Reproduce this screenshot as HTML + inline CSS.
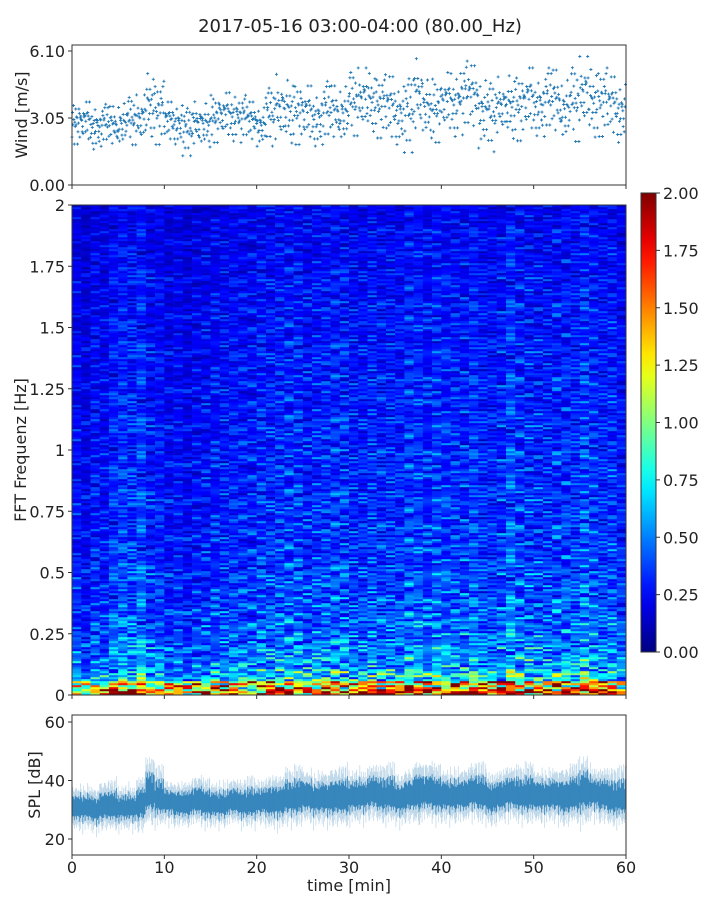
<!DOCTYPE html>
<html><head><meta charset="utf-8"><style>
body{margin:0;background:#fff;font-family:"Liberation Sans","DejaVu Sans",sans-serif;}
svg text{font-family:"DejaVu Sans","Liberation Sans",sans-serif;fill:#222;}
</style></head><body>
<svg id="fig" width="720" height="900" viewBox="0 0 720 900" xmlns="http://www.w3.org/2000/svg">
<rect width="720" height="900" fill="#fff"/>
<text x="360" y="32" font-size="18" text-anchor="middle">2017-05-16 03:00-04:00 (80.00_Hz)</text>
<g id="wind"></g>
<g id="spec"></g>
<g id="cbar"></g>
<g id="spl"></g>
</svg>
<script>
// ---- data ----
const windMean=[2.9,2.9,2.8,2.8,2.7,2.9,3.0,3.0,3.9,3.4,2.9,2.9,2.5,2.8,2.9,3.1,3.2,3.3,3.1,2.9,2.8,3.2,3.5,3.6,3.4,3.3,3.2,3.4,3.3,3.4,3.8,3.9,4.0,3.7,3.5,3.4,3.3,4.1,3.7,3.5,3.8,3.9,4.1,4.0,3.5,3.2,3.6,3.8,3.7,3.9,3.8,3.9,3.8,3.6,3.8,4.2,4.0,3.9,3.6,3.5];
const windSpread=[0.8,0.8,0.9,0.8,0.8,0.9,0.9,1.0,1.3,1.2,0.8,0.8,0.9,0.9,0.9,0.9,0.9,1.0,0.9,0.8,0.8,1.1,1.4,1.3,1.2,1.1,1.1,1.2,1.1,1.2,1.2,1.3,1.2,1.2,1.3,1.2,1.4,1.5,1.2,1.2,1.2,1.3,1.4,1.3,1.4,1.3,1.2,1.3,1.3,1.3,1.2,1.3,1.3,1.3,1.4,1.5,1.4,1.3,1.2,1.2];
const windOffsets=[-0.9,-0.5,-0.3,-0.1,0,0.1,0.2,0.35,0.5,0.7,-0.7,1.1,-1.3,0.05,0.3,-0.2,-0.4,0.45,-0.05,0.15,-0.6,0.9,-1.0,0.25];
const windTicks=["0.00","3.05","6.10"];
const specFreqProfile=[1.25,0.62,0.5,0.45,0.42,0.4,0.38,0.36,0.35,0.34,0.33,0.32,0.31,0.31,0.3,0.3,0.3,0.29,0.29,0.29,0.28,0.28,0.28,0.27,0.27,0.27,0.26,0.26,0.26,0.25,0.25,0.25,0.24,0.24,0.23,0.23,0.22,0.22,0.21,0.2];
const specTimeFactor=[0.9,0.85,0.9,0.9,0.95,1.15,1.05,1.1,1.05,1.0,0.95,0.9,0.9,0.95,1.0,1.0,1.05,1.0,0.95,1.0,1.05,1.15,1.1,1.15,1.1,1.1,1.1,1.1,1.15,1.1,1.1,1.1,1.15,1.1,1.1,1.15,1.2,1.15,1.1,1.2,1.15,1.1,1.15,1.2,1.1,1.1,1.15,1.2,1.15,1.2,1.15,1.1,1.15,1.2,1.15,1.25,1.15,1.1,1.15,1.1];
const specStreak=[1,0.6,1.4,0.8,1.1,0.5,1.7,0.9,1.2,0.7,1.0,1.5,0.6,0.9,1.3,0.8,1.1,0.4,1.6,1.0,0.7,1.2,0.9,1.4,0.6,1.0,1.1,0.8,1.8,0.7,1.0,0.5,1.3,0.9,1.2,0.8,1.1];
const specYTicks=["0","0.25","0.5","0.75","1","1.25","1.5","1.75","2"];
const cbarTicks=["0.00","0.25","0.50","0.75","1.00","1.25","1.50","1.75","2.00"];
const splMid=[31,31,30,31,31,31,31,32,36,34,33,32,32,33,32,32,32,33,32,32,33,33,33,34,34,35,34,34,34,34,35,35,36,35,35,34,35,36,36,35,35,35,35,36,35,34,35,36,35,35,35,35,35,34,35,37,36,35,34,34];
const splSpread=[5,5,5,5,5,5,5,6,7,6,5,5,5,5,5,5,5,5,5,5,5,6,6,6,6,6,6,6,6,6,6,6,6,6,6,6,6,7,6,6,6,6,6,6,6,6,6,6,6,6,6,6,6,6,6,8,6,6,6,6];
const splOffsets=[0.2,-0.6,1.0,-0.3,0.5,-1.0,0.8,-0.2,1.4,-0.8,0.3,-0.5,0.9,-1.3,0.1,0.6,-0.4,1.2,-0.7,0.4,-0.1,0.7,-0.9,1.6,-0.2];
const splTicks=[20,40,60];
const timeTicks=[0,10,20,30,40,50,60];

const NS="http://www.w3.org/2000/svg";
function el(tag,attrs,parent){const e=document.createElementNS(NS,tag);for(const k in attrs)e.setAttribute(k,attrs[k]);parent.appendChild(e);return e;}
const X0=72,X1=626;
const xT=t=>X0+(t/60)*(X1-X0);
const C="#1f77b4";
const FS=16;

// ---- wind ----
const gw=document.getElementById('wind');
const yW=v=>185-v*(134/6.1);
let d="";
for(let m=0;m<60;m++){for(let k=0;k<20;k++){
 const t=m+k/20;const v=windMean[m]+windOffsets[(k*7+m*5+(k*k)%3)%windOffsets.length]*windSpread[m];
 const x=xT(t),y=yW(v);d+=`M${(x-1.5).toFixed(1)} ${y.toFixed(1)}h3M${x.toFixed(1)} ${(y-1.5).toFixed(1)}v3`;}}
const wp=el('path',{d:d,stroke:C,'stroke-width':0.9,fill:'none'},gw);


const wf=el('rect',{x:X0,y:45,width:X1-X0,height:140,fill:'none',stroke:'#333','stroke-width':1},gw);


windTicks.forEach(s=>{const y=yW(parseFloat(s));el('line',{x1:X0-4,x2:X0,y1:y,y2:y,stroke:'#333'},gw);
 const t=el('text',{x:X0-7,y:y+6,'font-size':FS,'text-anchor':'end'},gw);t.textContent=s;
 
 });
timeTicks.forEach(v=>el('line',{x1:xT(v),x2:xT(v),y1:185,y2:189,stroke:'#333'},gw));
const wl=el('text',{x:0,y:0,'font-size':FS,'text-anchor':'middle',transform:'translate(27,115) rotate(-90)'},gw);wl.textContent="Wind [m/s]";



// ---- spectrogram ----
function jet(v){v=Math.max(0,Math.min(1,v));
 const r=Math.max(0,Math.min(1,1.5-Math.abs(4*v-3))),g=Math.max(0,Math.min(1,1.5-Math.abs(4*v-2))),b=Math.max(0,Math.min(1,1.5-Math.abs(4*v-1)));
 return `rgb(${Math.round(r*255)},${Math.round(g*255)},${Math.round(b*255)})`;}
const gs=document.getElementById('spec');
const SY0=205,SY1=695,ROWS=245,COLS=60;
const yF=f=>SY1-(f/2)*(SY1-SY0);
const rh=(SY1-SY0)/ROWS;
for(let r=0;r<ROWS;r++){
 const fi=Math.min(specFreqProfile.length-1,Math.floor(r/ROWS*specFreqProfile.length));
 let base=specFreqProfile[fi];
 if(r<3)base=base*(1+(3-r)*0.12);
 for(let c=0;c<COLS;c++){
  const s=specStreak[(r*r*3+c*c*5+r*c+Math.floor(c/3)*r)%specStreak.length];
  const v=base*specTimeFactor[c]*s;
  const rc=el('rect',{x:xT(c).toFixed(2),y:(SY1-(r+1)*rh).toFixed(2),width:((X1-X0)/COLS+0.3).toFixed(2),height:(rh+0.2).toFixed(2),fill:jet(v/2)},gs);
  
  
 }}
const sf=el('rect',{x:X0,y:SY0,width:X1-X0,height:SY1-SY0,fill:'none',stroke:'#333'},gs);


specYTicks.forEach(s=>{const y=yF(parseFloat(s));el('line',{x1:X0-4,x2:X0,y1:y,y2:y,stroke:'#333'},gs);
 const t=el('text',{x:X0-7,y:y+6,'font-size':FS,'text-anchor':'end'},gs);t.textContent=s;
 
 });
timeTicks.forEach(v=>el('line',{x1:xT(v),x2:xT(v),y1:SY1,y2:SY1+4,stroke:'#333'},gs));
const sl=el('text',{x:0,y:0,'font-size':FS,'text-anchor':'middle',transform:'translate(26,450) rotate(-90)'},gs);sl.textContent="FFT Frequenz [Hz]";



// ---- colorbar ----
const gc=document.getElementById('cbar');
const CB0=193,CB1=652;
const defs=el('defs',{},gc);const lg=el('linearGradient',{id:'jetg',x1:0,y1:1,x2:0,y2:0},defs);
for(let i=0;i<=20;i++)el('stop',{offset:i/20,'stop-color':jet(i/20)},lg);
const cr=el('rect',{x:641,y:CB0,width:15,height:CB1-CB0,fill:'url(#jetg)',stroke:'#333'},gc);


cbarTicks.forEach(s=>{const y=CB1-parseFloat(s)/2*(CB1-CB0);el('line',{x1:656,x2:660,y1:y,y2:y,stroke:'#333'},gc);
 const t=el('text',{x:663,y:y+6,'font-size':FS},gc);t.textContent=s;
 
 });

// ---- SPL ----
const gp=document.getElementById('spl');
const PY0=715,PY1=855;
const yS=v=>839-(v-20)*(58.5/20);
let dl="",dd="";
for(let m=0;m<60;m++){for(let k=0;k<12;k++){
 const t=m+k/12,x=xT(t).toFixed(1);
 const o1=splOffsets[(k*3+m*7)%splOffsets.length],o2=splOffsets[(k*5+m*11+4)%splOffsets.length];
 const c=splMid[m]+o1*0.8;
 dd+=`M${x} ${yS(c+splSpread[m]*(0.5+0.35*Math.abs(o2))).toFixed(1)}V${yS(c-splSpread[m]*(0.5+0.35*Math.abs(o1))).toFixed(1)}`;
 dl+=`M${x} ${yS(c+splSpread[m]*(0.9+0.6*Math.abs(o2))).toFixed(1)}V${yS(c-splSpread[m]*(0.9+0.6*Math.abs(o1))).toFixed(1)}`;}}
const p1=el('path',{d:dl,stroke:C,'stroke-width':0.7,'stroke-opacity':0.3,fill:'none'},gp);


const p2=el('path',{d:dd,stroke:C,'stroke-width':0.8,'stroke-opacity':0.85,fill:'none'},gp);


const pf=el('rect',{x:X0,y:PY0,width:X1-X0,height:PY1-PY0,fill:'none',stroke:'#333'},gp);


splTicks.forEach(v=>{const y=yS(v);el('line',{x1:X0-4,x2:X0,y1:y,y2:y,stroke:'#333'},gp);
 const t=el('text',{x:X0-7,y:y+6,'font-size':FS,'text-anchor':'end'},gp);t.textContent=v;
 
 });
timeTicks.forEach(v=>{const x=xT(v);el('line',{x1:x,x2:x,y1:PY1,y2:PY1+4,stroke:'#333'},gp);
 const t=el('text',{x:x,y:873,'font-size':FS,'text-anchor':'middle'},gp);t.textContent=v;
 
 });
const pl=el('text',{x:0,y:0,'font-size':FS,'text-anchor':'middle',transform:'translate(40,785) rotate(-90)'},gp);pl.textContent="SPL [dB]";


const xl=el('text',{x:349,y:891,'font-size':FS,'text-anchor':'middle'},gp);xl.textContent="time [min]";


</script>
</body></html>
